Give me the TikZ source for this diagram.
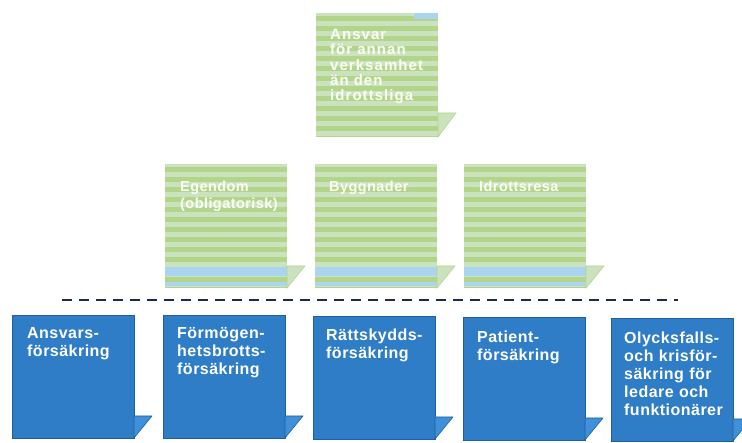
\documentclass[tikz,border=0pt]{standalone}
\usepackage{fontspec}
\newfontfamily\boxfont[LetterSpace=3.0]{Liberation Sans}
\newfontfamily\widefont[LetterSpace=7.0]{Liberation Sans}
\usetikzlibrary{calc}
\usetikzlibrary{positioning}

\definecolor{boxblue}{HTML}{2E7DC6}
\definecolor{boxblueedge}{HTML}{1F5F9F}
\definecolor{tabblue}{HTML}{3F90D8}
\definecolor{greenstripe}{HTML}{B3D589}
\definecolor{greenpale}{HTML}{CBE2BE}
\definecolor{stripeblue}{HTML}{AAD5F0}
\definecolor{greentext}{HTML}{FAFCF4}
\definecolor{dashnavy}{HTML}{1C2A52}

\tikzset{
  bluebox/.style={anchor=north west, minimum width=122pt, minimum height=123pt,
    inner sep=0pt, outer sep=0pt, fill=boxblue, draw=boxblueedge, line width=0.8pt},
  greenbox/.style={anchor=north west, minimum width=122pt, minimum height=124pt,
    inner sep=0pt, outer sep=0pt, fill=greenpale,
    path picture={
      \foreach \k in {0,...,12}
        \fill[greenstripe] ($(path picture bounding box.north west)+(0,-\k*10-3)$) rectangle ++(122,-5);
    }},
  bluetab/.style={fill=tabblue, draw=boxblueedge, line width=0.6pt, line join=round},
  greentab/.style={fill=greenpale, draw=greenstripe, line width=0.6pt},
  bluetext/.style={anchor=north west, inner sep=0pt, text width=112pt, align=left,
    text=white, font=\boxfont\bfseries\fontsize{16}{18}\selectfont},
  greenlabel/.style={anchor=north west, inner sep=0pt, text width=112pt, align=left,
    text=greentext, font=\boxfont\bfseries\fontsize{14.5}{17}\selectfont},
  dashline/.style={dashnavy, line width=1.8pt, dash pattern=on 10pt off 7pt}
}

\begin{document}
\begin{tikzpicture}[x=1pt,y=1pt]
  \useasboundingbox (0,0) rectangle (742,443);

  % top box
  \node[greenbox] (annan) at (316,430) {};
  \fill[stripeblue] ($(annan.north east)+(-24,0)$) rectangle ($(annan.north east)+(0,-6)$);
  \filldraw[greentab] (annan.south east) -- ++(0,24) -- ++(18,0) -- cycle;
  \node[greenlabel, font=\widefont\bfseries\fontsize{15}{15.3}\selectfont] (annan-t) at ($(annan.north west)+(14,-16)$)
    {Ansvar\\för annan\\verksamhet\\än den\\idrottsliga};

  % middle row
  \node[greenbox] (egendom) at (165,279) {};
  \node[greenbox] (byggnad) at (315,279) {};
  \node[greenbox] (idrottsresa) at (464,279) {};
  \foreach \b in {egendom,byggnad,idrottsresa} {
    \fill[stripeblue] ($(\b.south west)+(0,12)$) rectangle ($(\b.south east)+(0,21)$);
    \fill[stripeblue] ($(\b.south west)+(0,2)$) rectangle ($(\b.south east)+(0,6)$);
    \filldraw[greentab] (\b.south east) -- ++(0,22) -- ++(18,0) -- cycle;
  }
  \node[greenlabel] (egendom-t) at ($(egendom.north west)+(15,-17)$) {Egendom\\(obligatorisk)};
  \node[greenlabel] (byggnad-t) at ($(byggnad.north west)+(14,-17)$) {Byggnader};
  \node[greenlabel] (idrottsresa-t) at ($(idrottsresa.north west)+(15,-17)$) {Idrottsresa};

  % dashed line
  \coordinate (dash-l) at (62,143);
  \coordinate (dash-r) at (678,143);
  \draw[dashline] (dash-l) -- (dash-r);

  % bottom row
  \node[bluebox] (ansvars) at (12,128) {};
  \node[bluebox] (formogen) at (163,128) {};
  \node[bluebox] (rattskydd) at (313,127) {};
  \node[bluebox] (patient) at (463,126) {};
  \node[bluebox] (olycksfall) at (611,125) {};
  \foreach \b in {ansvars,formogen,rattskydd,patient,olycksfall}
    \filldraw[bluetab] (\b.south east) -- ++(0,22) -- ++(18,0) -- cycle;

  \node[bluetext] (ansvars-t) at ($(ansvars.north west)+(15,-12)$) {Ansvars-\\försäkring};
  \node[bluetext] (formogen-t) at ($(formogen.north west)+(14,-12)$) {Förmögen-\\hetsbrotts-\\försäkring};
  \node[bluetext] (rattskydd-t) at ($(rattskydd.north west)+(13,-13)$) {Rättskydds-\\försäkring};
  \node[bluetext] (patient-t) at ($(patient.north west)+(14,-14)$) {Patient-\\försäkring};
  \node[bluetext] (olycksfall-t) at ($(olycksfall.north west)+(13,-14)$) {Olycksfalls-\\och krisför-\\säkring för\\ledare och\\funktionärer};
\end{tikzpicture}
\end{document}
